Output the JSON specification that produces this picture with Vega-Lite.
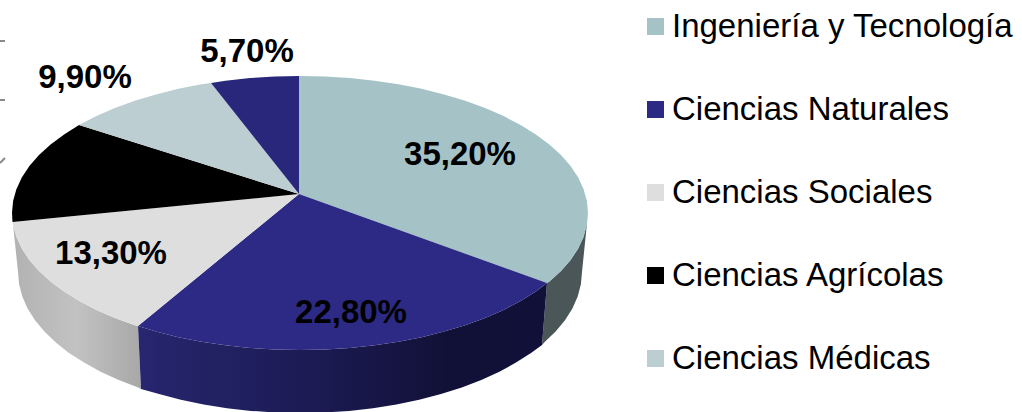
{"$schema":"https://vega.github.io/schema/vega-lite/v6.json","width":1022,"height":412,"padding":0,"autosize":{"type":"none"},"background":"white","view":{"stroke":null},
"projection":{"type":"identity","reflectY":true,"scale":1,"translate":[300,213]},
"datasets":{
"tops":[
{"type":"Feature","properties":{"area":"Ingeniería y Tecnología","value":35.2},"geometry":{"type":"Polygon","coordinates":[[[-1,137],[25.1,136.5],[50,134.9],[74.5,132.3],[98.5,128.7],[121.7,124.2],[144,118.6],[165.2,112.2],[185.1,104.9],[203.6,96.9],[220.6,88.1],[235.9,78.6],[249.4,68.5],[261,57.9],[270.6,46.9],[278.2,35.5],[283.6,23.8],[286.9,11.9],[288,0],[286.9,-11.9],[283.6,-23.8],[278.2,-35.5],[270.6,-46.9],[261,-57.9],[249.4,-68.5],[247,-70],[-1,19],[-1,137]]]}},
{"type":"Feature","properties":{"area":"Ciencias Naturales","value":22.8},"geometry":{"type":"Polygon","coordinates":[[[247,-70],[235.9,-78.6],[220.6,-88.1],[203.6,-96.9],[185.1,-104.9],[165.2,-112.2],[144,-118.6],[121.7,-124.2],[98.5,-128.7],[74.5,-132.3],[50,-134.9],[25.1,-136.5],[0,-137],[-25.1,-136.5],[-50,-134.9],[-74.5,-132.3],[-98.5,-128.7],[-121.7,-124.2],[-144,-118.6],[-162,-113],[-1,19],[247,-70]]]}},
{"type":"Feature","properties":{"area":"Ciencias Sociales","value":13.3},"geometry":{"type":"Polygon","coordinates":[[[-162,-113],[-165.2,-112.2],[-185.1,-104.9],[-203.6,-96.9],[-220.6,-88.1],[-235.9,-78.6],[-249.4,-68.5],[-261,-57.9],[-270.6,-46.9],[-278.2,-35.5],[-283.6,-23.8],[-286.9,-11.9],[-287.5,-9],[-1,19],[-162,-113]]]}},
{"type":"Feature","properties":{"area":"Ciencias Agrícolas","value":13.1},"geometry":{"type":"Polygon","coordinates":[[[-287.5,-9],[-288,0],[-286.9,11.9],[-283.6,23.8],[-278.2,35.5],[-270.6,46.9],[-261,57.9],[-249.4,68.5],[-235.9,78.6],[-221,88],[-1,19],[-287.5,-9]]]}},
{"type":"Feature","properties":{"area":"Ciencias Médicas","value":9.9},"geometry":{"type":"Polygon","coordinates":[[[-221,88],[-203.6,96.9],[-185.1,104.9],[-165.2,112.2],[-144,118.6],[-121.7,124.2],[-98.5,128.7],[-89,130],[-1,19],[-221,88]]]}},
{"type":"Feature","properties":{"area":"Otras","value":5.7},"geometry":{"type":"Polygon","coordinates":[[[-89,130],[-74.5,132.3],[-50,134.9],[-25.1,136.5],[-1,137],[-1,19],[-89,130]]]}}
],
"wallIng":[{"type":"Feature","properties":{"area":"Ingeniería y Tecnología"},"geometry":{"type":"Polygon","coordinates":[[[287,-10],[283.6,-23.8],[278.2,-35.5],[270.6,-46.9],[261,-57.9],[249.4,-68.5],[247,-70],[242,-132],[244.2,-129.5],[255.6,-118.6],[265,-107.2],[272.4,-95.5],[277.7,-83.5],[280.9,-71.3],[282,-59],[287,-10]]]}}],
"wallNat":[{"type":"Feature","properties":{"area":"Ciencias Naturales"},"geometry":{"type":"Polygon","coordinates":[[[247,-70],[235.9,-78.6],[220.6,-88.1],[203.6,-96.9],[185.1,-104.9],[165.2,-112.2],[144,-118.6],[121.7,-124.2],[98.5,-128.7],[74.5,-132.3],[50,-134.9],[25.1,-136.5],[0,-137],[-25.1,-136.5],[-50,-134.9],[-74.5,-132.3],[-98.5,-128.7],[-121.7,-124.2],[-144,-118.6],[-162,-113],[-159,-176],[-141,-181.1],[-119.2,-186.8],[-96.4,-191.5],[-73,-195.2],[-49,-197.9],[-24.6,-199.5],[0,-200],[24.6,-199.5],[49,-197.9],[73,-195.2],[96.4,-191.5],[119.2,-186.8],[141,-181.1],[161.8,-174.5],[181.3,-167],[199.4,-158.7],[216,-149.6],[231,-139.9],[242,-132],[247,-70]]]}}],
"wallSoc":[{"type":"Feature","properties":{"area":"Ciencias Sociales"},"geometry":{"type":"Polygon","coordinates":[[[-162,-113],[-165.2,-112.2],[-185.1,-104.9],[-203.6,-96.9],[-220.6,-88.1],[-235.9,-78.6],[-249.4,-68.5],[-261,-57.9],[-270.6,-46.9],[-278.2,-35.5],[-283.6,-23.8],[-286.9,-11.9],[-282,-59],[-280.9,-71.3],[-277.7,-83.5],[-272.4,-95.5],[-265,-107.2],[-255.6,-118.6],[-244.2,-129.5],[-231,-139.9],[-216,-149.6],[-199.4,-158.7],[-181.3,-167],[-161.8,-174.5],[-159,-176],[-162,-113]]]}}],
"ticks":[
{"type":"Feature","properties":{"id":1},"geometry":{"type":"LineString","coordinates":[[-300,172],[-295,172]]}},
{"type":"Feature","properties":{"id":2},"geometry":{"type":"LineString","coordinates":[[-300,113],[-295,113]]}},
{"type":"Feature","properties":{"id":3},"geometry":{"type":"LineString","coordinates":[[-300,50],[-295,55]]}}
],
"labels":[
{"area":"Ingeniería y Tecnología","label":"35,20%","lon":160,"lat":58},
{"area":"Ciencias Naturales","label":"22,80%","lon":51,"lat":-100},
{"area":"Ciencias Sociales","label":"13,30%","lon":-189,"lat":-41},
{"area":"Ciencias Médicas","label":"9,90%","lon":-215,"lat":135},
{"area":"Otras","label":"5,70%","lon":-53,"lat":161}
]
},
"layer":[
{"data":{"name":"ticks"},"mark":{"type":"geoshape","filled":false,"stroke":"#8a8a8a","strokeWidth":2},"encoding":{}},
{"data":{"name":"wallIng"},"mark":{"type":"geoshape","fill":"#4a5658","stroke":null},"encoding":{}},
{"data":{"name":"wallSoc"},"mark":{"type":"geoshape","stroke":null,"fill":{"gradient":"linear","x1":0,"y1":0,"x2":1,"y2":0,"stops":[{"offset":0,"color":"#b2b2b2"},{"offset":0.5,"color":"#c2c2c2"},{"offset":1,"color":"#a8a8a8"}]}},"encoding":{}},
{"data":{"name":"wallNat"},"mark":{"type":"geoshape","stroke":null,"fill":{"gradient":"linear","x1":0,"y1":0,"x2":1,"y2":0,"stops":[{"offset":0,"color":"#27266f"},{"offset":0.45,"color":"#1b1a52"},{"offset":0.75,"color":"#111138"},{"offset":1,"color":"#101038"}]}},"encoding":{}},
{"data":{"name":"tops"},"mark":{"type":"geoshape","stroke":null},"encoding":{"fill":{"field":"properties.area","type":"nominal","scale":{"domain":["Ingeniería y Tecnología","Ciencias Naturales","Ciencias Sociales","Ciencias Agrícolas","Ciencias Médicas","Otras"],"range":["#a5c3c7","#2c2a85","#dedede","#000000","#bdced3","#28277b"]},"legend":{"title":null,"orient":"none","legendX":639,"legendY":10,"padding":0,"values":["Ingeniería y Tecnología","Ciencias Naturales","Ciencias Sociales","Ciencias Agrícolas","Ciencias Médicas"],"symbolType":"square","symbolSize":289,"symbolStrokeWidth":0,"labelFont":"Liberation Sans","labelFontSize":33,"labelColor":"#000000","labelOffset":0,"rowPadding":49,"labelLimit":400}}}},
{"data":{"name":"labels"},"mark":{"type":"text","font":"Liberation Sans","fontWeight":"bold","fontSize":33,"align":"center","baseline":"middle","color":"#000000"},"encoding":{"longitude":{"field":"lon","type":"quantitative"},"latitude":{"field":"lat","type":"quantitative"},"text":{"field":"label","type":"nominal"}}}
]}
